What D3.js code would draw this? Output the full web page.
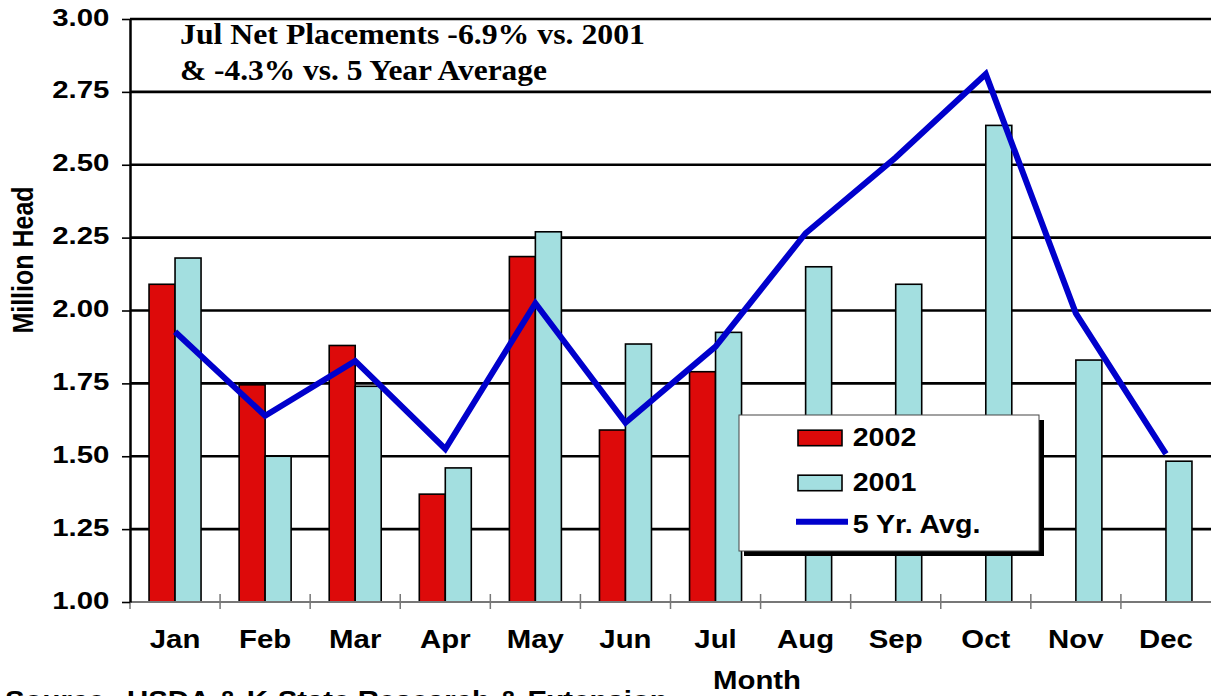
<!DOCTYPE html>
<html>
<head>
<meta charset="utf-8">
<script src="https://cdn.jsdelivr.net/npm/d3@7/dist/d3.min.js"></script>
<style>
  html, body { margin: 0; padding: 0; background: #fff; }
  svg { display: block; }
  text { font-family: Arial, "Liberation Sans", sans-serif; font-weight: bold; fill: #000; }
</style>
</head>
<body>
<svg id="chart" width="1211" height="696"></svg>
<script>
// ---- data ----
const months = ["Jan","Feb","Mar","Apr","May","Jun","Jul","Aug","Sep","Oct","Nov","Dec"];
const values2002 = [2.09, 1.745, 1.88, 1.37, 2.185, 1.59, 1.79];
const values2001 = [2.18, 1.50, 1.74, 1.46, 2.27, 1.885, 1.925, 2.15, 2.09, 2.635, 1.83, 1.483];
const avg5yr = [1.927, 1.639, 1.827, 1.525, 2.025, 1.615, 1.876, 2.265, 2.525, 2.811, 1.99, 1.508];
const yTicks = [1.00, 1.25, 1.50, 1.75, 2.00, 2.25, 2.50, 2.75, 3.00];
const seriesNames = ["2002", "2001"];
const legendLabels = ["2002", "2001", "5 Yr. Avg."];
const titleLines = ["Jul Net Placements -6.9% vs. 2001", "& -4.3% vs. 5 Year Average"];

// ---- layout ----
const svg = d3.select("#chart");
const pL = 130, pR = 1211, pT = 19, pB = 602;
const colors = { "2002": "#DD0A0A", "2001": "#A3DFE0", avg: "#0000CC" };

const x0 = d3.scaleBand().domain(months).range([pL, pR]).paddingInner(0.4227).paddingOuter(0.21135);
const x1 = d3.scaleBand().domain(seriesNames).range([0, x0.bandwidth()]);
const y = d3.scaleLinear().domain([1, 3]).range([pB, pT]);

// gridlines
svg.append("g").selectAll("line").data(yTicks.filter(d => d > 1))
  .join("line")
  .attr("x1", pL).attr("x2", pR)
  .attr("y1", d => y(d)).attr("y2", d => y(d))
  .attr("stroke", "#000").attr("stroke-width", 2.7);

// bars
const barData = [];
months.forEach((m, i) => {
  if (values2002[i] != null) barData.push({ m, s: "2002", v: values2002[i] });
  if (values2001[i] != null) barData.push({ m, s: "2001", v: values2001[i] });
});
svg.append("g").selectAll("rect").data(barData)
  .join("rect")
  .attr("x", d => x0(d.m) + x1(d.s))
  .attr("y", d => y(d.v))
  .attr("width", x1.bandwidth())
  .attr("height", d => y(1) - y(d.v))
  .attr("fill", d => colors[d.s])
  .attr("stroke", "#000").attr("stroke-width", 1.6);

// x axis line and ticks
svg.append("line").attr("x1", pL).attr("x2", pR).attr("y1", pB).attr("y2", pB)
  .attr("stroke", "#777").attr("stroke-width", 2);
const boundaries = months.map(m => x0(m) - x0.step() * x0.paddingInner() / 2);
svg.append("g").selectAll("line").data(boundaries.slice(1))
  .join("line")
  .attr("x1", d => d).attr("x2", d => d)
  .attr("y1", pB - 8).attr("y2", pB + 7)
  .attr("stroke", "#777").attr("stroke-width", 1.5);
svg.append("line").attr("x1", pL).attr("x2", pL).attr("y1", pB).attr("y2", pB + 7)
  .attr("stroke", "#777").attr("stroke-width", 1.5);

// y axis
const yAxis = d3.axisLeft(y).tickValues(yTicks).tickSize(8).tickSizeOuter(0).tickFormat(d3.format(".2f"));
const ya = svg.append("g").attr("transform", `translate(${pL},0)`).call(yAxis);
ya.select(".domain").attr("stroke", "#000").attr("stroke-width", 2.5);
ya.selectAll(".tick line").attr("stroke", "#000").attr("stroke-width", 1.6);
ya.selectAll(".tick text")
  .attr("x", -20.5 / 1.28).attr("dy", null).attr("y", 6)
  .attr("transform", "scale(1.28,1)")
  .style("font-size", "23px").style("font-family", "Arial, 'Liberation Sans', sans-serif").style("font-weight", "bold")
  .attr("fill", "#000");

// 5 yr avg line
const line = d3.line().x((d, i) => x0(months[i]) + x0.bandwidth() / 2).y(d => y(d));
svg.append("path").datum(avg5yr)
  .attr("d", line)
  .attr("fill", "none").attr("stroke", colors.avg).attr("stroke-width", 6)
  .attr("stroke-linejoin", "miter").attr("stroke-miterlimit", 2);

// month labels
svg.append("g").selectAll("text").data(months)
  .join("text")
  .attr("transform", d => `translate(${x0(d) + x0.bandwidth() / 2},648) scale(1.13,1)`)
  .attr("text-anchor", "middle")
  .style("font-size", "26px")
  .text(d => d);

// axis titles
svg.append("text").attr("transform", "translate(757,689) scale(1.13,1)")
  .attr("text-anchor", "middle").style("font-size", "26px").text("Month");
svg.append("text").attr("transform", "translate(33,260) rotate(-90) scale(1,1.15)")
  .attr("text-anchor", "middle").style("font-size", "25px").text("Million Head");

// title
svg.append("g").selectAll("text").data(titleLines)
  .join("text")
  .attr("x", 180).attr("y", (d, i) => 44 + i * 36)
  .attr("textLength", (d, i) => i === 0 ? 465 : 367)
  .attr("lengthAdjust", "spacingAndGlyphs")
  .style("font-family", "'Liberation Serif', 'Times New Roman', serif")
  .style("font-size", "29px")
  .text(d => d);

// source
svg.append("text").attr("transform", "translate(5,709) scale(1.13,1)").style("font-size", "26px").text("Source:");
svg.append("text").attr("transform", "translate(127,709) scale(1.13,1)").style("font-size", "26px").text("USDA & K-State Research & Extension");

// legend
const lg = svg.append("g");
lg.append("rect").attr("x", 744).attr("y", 420).attr("width", 300).attr("height", 136).attr("fill", "#000");
lg.append("rect").attr("x", 739).attr("y", 415).attr("width", 300).attr("height", 136)
  .attr("fill", "#fff").attr("stroke", "#444").attr("stroke-width", 1);
const legY = [445.7, 490.7, 533.3];
legendLabels.forEach((lab, i) => {
  if (i < 2) {
    lg.append("rect").attr("x", 798).attr("y", legY[i] - 15.5).attr("width", 44).attr("height", 15.5)
      .attr("fill", colors[lab]).attr("stroke", "#000").attr("stroke-width", 1.6);
  } else {
    lg.append("line").attr("x1", 796).attr("x2", 848).attr("y1", 521.7).attr("y2", 521.7)
      .attr("stroke", colors.avg).attr("stroke-width", 6);
  }
  lg.append("text").attr("transform", `translate(852.7,${legY[i]}) scale(1.1,1)`)
    .style("font-size", "26px").text(lab);
});
</script>
</body>
</html>
